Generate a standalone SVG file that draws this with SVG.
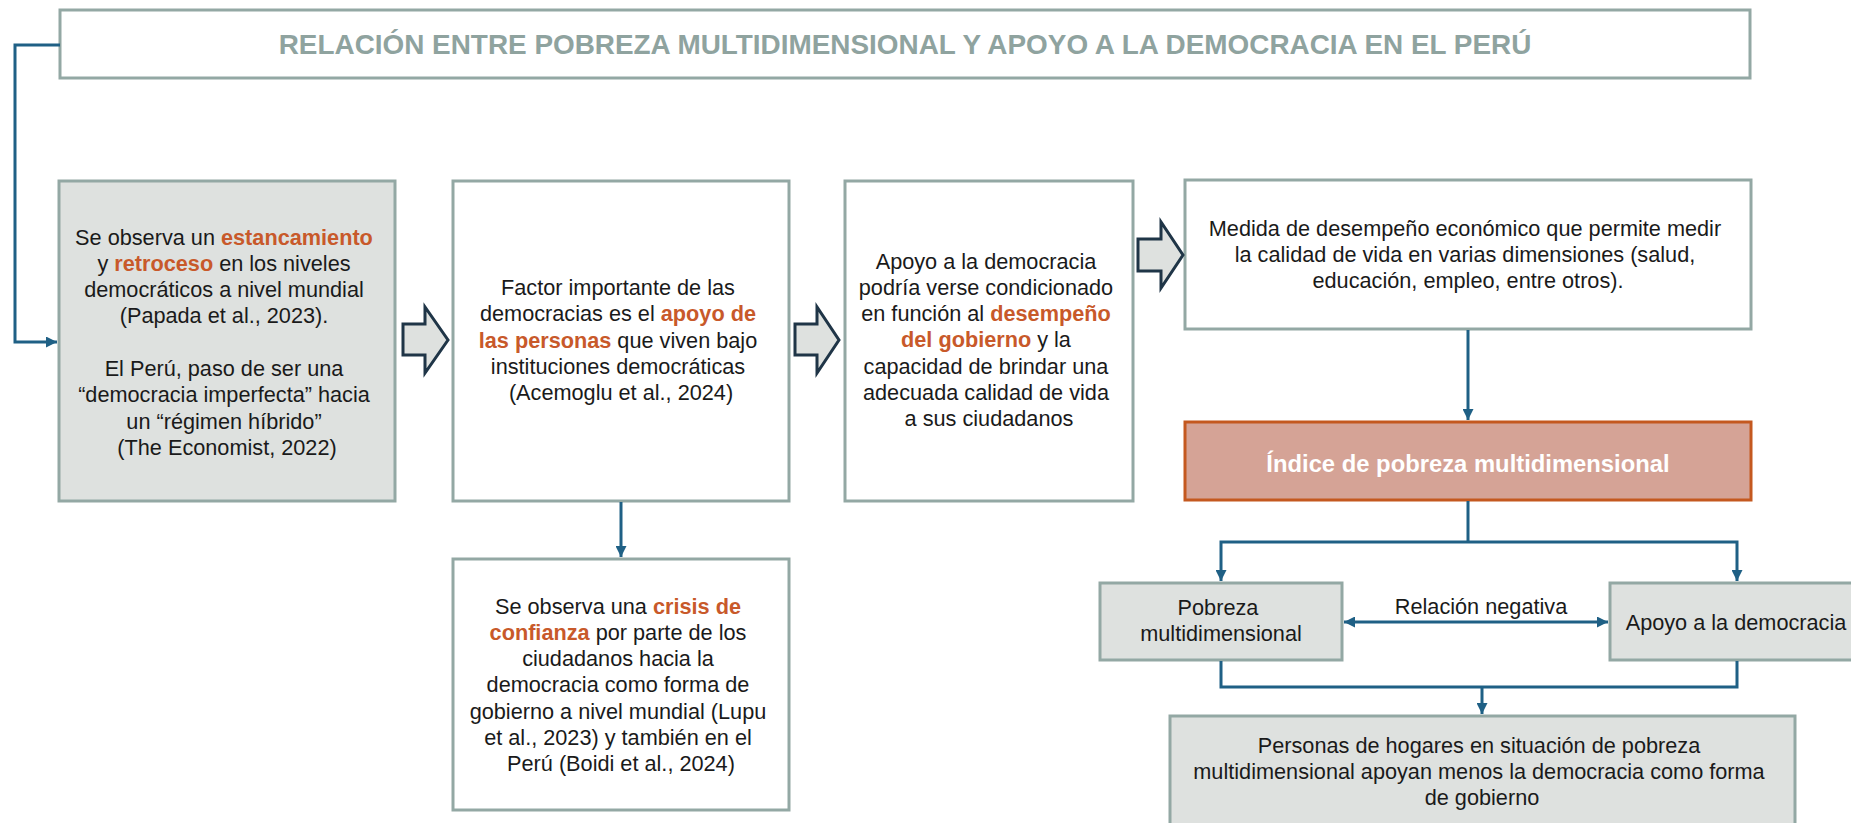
<svg xmlns="http://www.w3.org/2000/svg" width="1851" height="823" viewBox="0 0 1851 823">
<style>
  .box{fill:#ffffff;stroke:#93a8a4;stroke-width:3}
  .gbox{fill:#dee1df;stroke:#93a8a4;stroke-width:3}
  .ibox{fill:#d5a396;stroke:#c4581f;stroke-width:3}
  .t{font-family:"Liberation Sans",Arial,sans-serif;font-size:21.7px;fill:#1a1a1a;text-anchor:middle}
  .h{font-weight:bold;fill:#c8592a}
  .title{font-family:"Liberation Sans",Arial,sans-serif;font-size:27.9px;font-weight:bold;fill:#8fa39f;text-anchor:middle}
  .itxt{font-family:"Liberation Sans",Arial,sans-serif;font-size:23.8px;font-weight:bold;fill:#ffffff;text-anchor:middle}
  .con{fill:none;stroke:#1f6085;stroke-width:3}
  .big{fill:#dee1df;stroke:#1f3547;stroke-width:3;stroke-linejoin:miter}
</style>
<defs>
  <marker id="ah" markerUnits="userSpaceOnUse" viewBox="0 0 10 10" refX="10" refY="5" markerWidth="11" markerHeight="11" orient="auto-start-reverse">
    <path d="M0,0 L10,5 L0,10 z" fill="#1f6085"/>
  </marker>
</defs>
<rect width="1851" height="823" fill="#ffffff"/>

<g id="title">
  <rect class="box" x="60" y="10" width="1690" height="68"/>
  <text class="title" x="905" y="54">RELACIÓN ENTRE POBREZA MULTIDIMENSIONAL Y APOYO A LA DEMOCRACIA EN EL PERÚ</text>
</g>

<g id="box1">
  <rect class="gbox" x="59" y="181" width="336" height="320"/>
  <text class="t">
    <tspan x="227" y="244.5">Se observa un <tspan class="h">estancamiento</tspan></tspan>
    <tspan x="227" y="270.8">y <tspan class="h">retroceso</tspan> en los niveles</tspan>
    <tspan x="227" y="297.1">democráticos a nivel mundial</tspan>
    <tspan x="227" y="323.4">(Papada et al., 2023).</tspan>
    <tspan x="227" y="376">El Perú, paso de ser una</tspan>
    <tspan x="227" y="402.3">“democracia imperfecta” hacia</tspan>
    <tspan x="227" y="428.6">un “régimen híbrido”</tspan>
    <tspan x="227" y="454.9">(The Economist, 2022)</tspan>
  </text>
</g>

<g id="box2">
  <rect class="box" x="453" y="181" width="336" height="320"/>
  <text class="t">
    <tspan x="621" y="295">Factor importante de las</tspan>
    <tspan x="621" y="321.3">democracias es el <tspan class="h">apoyo de</tspan></tspan>
    <tspan x="621" y="347.6"><tspan class="h">las personas</tspan> que viven bajo</tspan>
    <tspan x="621" y="373.9">instituciones democráticas</tspan>
    <tspan x="621" y="400.2">(Acemoglu et al., 2024)</tspan>
  </text>
</g>

<g id="box3">
  <rect class="box" x="845" y="181" width="288" height="320"/>
  <text class="t">
    <tspan x="989" y="268.5">Apoyo a la democracia</tspan>
    <tspan x="989" y="294.8">podría verse condicionado</tspan>
    <tspan x="989" y="321.1">en función al <tspan class="h">desempeño</tspan></tspan>
    <tspan x="989" y="347.4"><tspan class="h">del gobierno</tspan> y la</tspan>
    <tspan x="989" y="373.7">capacidad de brindar una</tspan>
    <tspan x="989" y="400">adecuada calidad de vida</tspan>
    <tspan x="989" y="426.3">a sus ciudadanos</tspan>
  </text>
</g>

<g id="crisis">
  <rect class="box" x="453" y="559" width="336" height="251"/>
  <text class="t">
    <tspan x="621" y="613.5">Se observa una <tspan class="h">crisis de</tspan></tspan>
    <tspan x="621" y="639.8"><tspan class="h">confianza</tspan> por parte de los</tspan>
    <tspan x="621" y="666.1">ciudadanos hacia la</tspan>
    <tspan x="621" y="692.4">democracia como forma de</tspan>
    <tspan x="621" y="718.7">gobierno a nivel mundial (Lupu</tspan>
    <tspan x="621" y="745">et al., 2023) y también en el</tspan>
    <tspan x="621" y="771.3">Perú (Boidi et al., 2024)</tspan>
  </text>
</g>

<g id="medida">
  <rect class="box" x="1185" y="180" width="566" height="149"/>
  <text class="t">
    <tspan x="1468" y="235.5">Medida de desempeño económico que permite medir</tspan>
    <tspan x="1468" y="261.8">la calidad de vida en varias dimensiones (salud,</tspan>
    <tspan x="1468" y="288.1">educación, empleo, entre otros).</tspan>
  </text>
</g>

<g id="indice">
  <rect class="ibox" x="1185" y="422" width="566" height="78"/>
  <text class="itxt" x="1468" y="471.5">Índice de pobreza multidimensional</text>
</g>

<g id="pobreza">
  <rect class="gbox" x="1100" y="583" width="242" height="77"/>
  <text class="t">
    <tspan x="1221" y="614.5">Pobreza</tspan>
    <tspan x="1221" y="640.8">multidimensional</tspan>
  </text>
</g>

<g id="apoyo">
  <rect class="gbox" x="1610" y="583" width="254" height="77"/>
  <text class="t" x="1736" y="629.5">Apoyo a la democracia</text>
</g>

<g id="conclusion">
  <rect class="gbox" x="1170" y="716" width="625" height="130"/>
  <text class="t">
    <tspan x="1482" y="752.5">Personas de hogares en situación de pobreza</tspan>
    <tspan x="1482" y="778.8">multidimensional apoyan menos la democracia como forma</tspan>
    <tspan x="1482" y="805.1">de gobierno</tspan>
  </text>
</g>

<g id="big-arrows">
  <path class="big" d="M403,324 L425,324 L425,307 L448,340 L425,373 L425,355 L403,355 Z"/>
  <path class="big" d="M795,324 L817,324 L817,307 L839,340 L817,373 L817,355 L795,355 Z"/>
  <path class="big" d="M1138,239 L1161,239 L1161,222 L1183,255 L1161,288 L1161,271 L1138,271 Z"/>
</g>

<g id="connectors">
  <path class="con" d="M60,45 H15 V342 H57" marker-end="url(#ah)"/>
  <path class="con" d="M621,502 V557" marker-end="url(#ah)"/>
  <path class="con" d="M1468,330 V420" marker-end="url(#ah)"/>
  <path class="con" d="M1468,501 V542"/>
  <path class="con" d="M1468,542 H1221 V581" marker-end="url(#ah)"/>
  <path class="con" d="M1468,542 H1737 V581" marker-end="url(#ah)"/>
  <path class="con" d="M1344,622 H1608" marker-start="url(#ah)" marker-end="url(#ah)"/>
  <path class="con" d="M1221,661 V687 H1737 V661"/>
  <path class="con" d="M1482,687 V714" marker-end="url(#ah)"/>
  <text class="t" x="1481" y="613.5">Relación negativa</text>
</g>
</svg>
